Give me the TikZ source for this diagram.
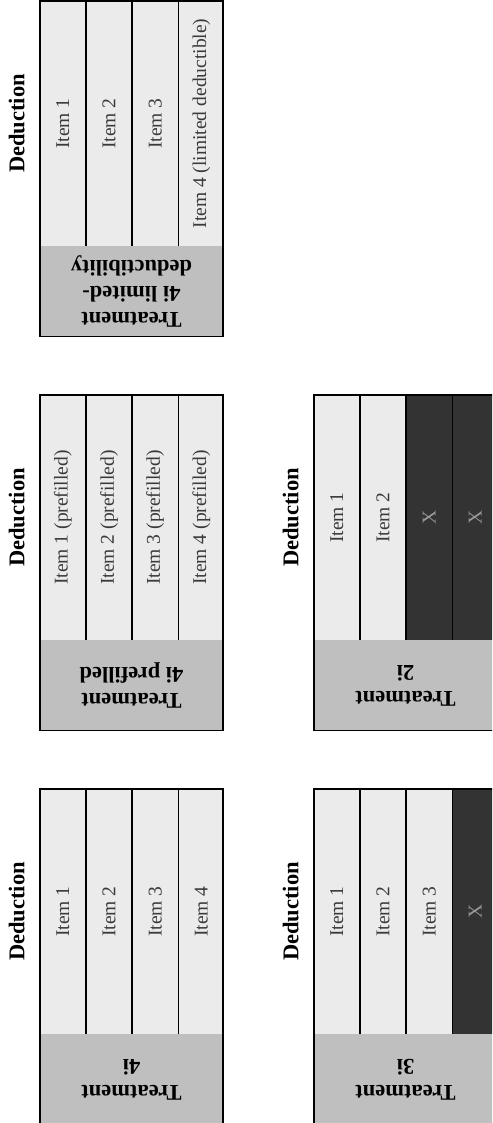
\documentclass[tikz,border=0pt]{standalone}
\usepackage{fontspec}
\setmainfont{Liberation Serif}
\usetikzlibrary{positioning}
\definecolor{cellgray}{HTML}{EBEBEB}
\definecolor{headgray}{HTML}{BFBFBF}
\definecolor{outgray}{HTML}{333333}
\definecolor{inkgray}{HTML}{3A3A3A}
\definecolor{xgray}{HTML}{9A9A9A}
\tikzset{
    item/.style =   {rectangle,
                    fill=cellgray,
                    text=inkgray,
                    inner sep=0pt,
                    minimum width=45.75pt,
                    minimum height=245pt,
                    font=\fontsize{19.5}{23}\selectfont},
    gone/.style =   {item,
                    fill=outgray,
                    text=xgray},
    head/.style =   {rectangle,
                    fill=headgray,
                    inner sep=0pt,
                    anchor=north west,
                    minimum width=183pt,
                    minimum height=90pt},
    headtext/.style = {rotate=180,
                    align=center,
                    text=black,
                    font=\fontsize{22.5}{26}\selectfont\bfseries},
    title/.style =  {rotate=90,
                    text=black,
                    font=\fontsize{22.5}{26}\selectfont\bfseries},
    frame/.style =  {draw=black,
                    line width=1.5pt},
    node distance=0pt}

\begin{document}
\begin{tikzpicture}[x=1pt,y=-1pt]
    \useasboundingbox (0,0) rectangle (492,1123);
    \clip (0,0) rectangle (492,1123);

    % treatment 4i limited-deductibility
    \node[item]  (A1) at (62.875,123.5)  {\rotatebox{90}{Item 1}};
    \node[item]  (A2) [right=of A1]       {\rotatebox{90}{Item 2}};
    \node[item]  (A3) [right=of A2]       {\rotatebox{90}{Item 3}};
    \node[item]  (A4) [right=of A3]       {\rotatebox{90}{Item 4 (limited deductible)}};
    \node[head]  (AH) at (A1.south west) {};
    \node[headtext] (AHt) at (AH) {Treatment\\4i limited-\\deductibility};
    \node[title] (AT) at ([xshift=-23pt]A1.west) {Deduction};
    \draw[frame] (A1.north west) rectangle (AH.south east);
    \draw[frame] (A1.north east) -- (A1.south east)
                 (A2.north east) -- (A2.south east)
                 (A3.north east) -- (A3.south east);

    % treatment 4i prefilled
    \node[item]  (B1) at (62.875,517.5)  {\rotatebox{90}{Item 1 (prefilled)}};
    \node[item]  (B2) [right=of B1]       {\rotatebox{90}{Item 2 (prefilled)}};
    \node[item]  (B3) [right=of B2]       {\rotatebox{90}{Item 3 (prefilled)}};
    \node[item]  (B4) [right=of B3]       {\rotatebox{90}{Item 4 (prefilled)}};
    \node[head]  (BH) at (B1.south west) {};
    \node[headtext] (BHt) at (BH) {Treatment\\4i prefilled};
    \node[title] (BT) at ([xshift=-23pt]B1.west) {Deduction};
    \draw[frame] (B1.north west) rectangle (BH.south east);
    \draw[frame] (B1.north east) -- (B1.south east)
                 (B2.north east) -- (B2.south east)
                 (B3.north east) -- (B3.south east);

    % treatment 2i
    \node[item]  (C1) at (336.875,517.5) {\rotatebox{90}{Item 1}};
    \node[item]  (C2) [right=of C1]       {\rotatebox{90}{Item 2}};
    \node[gone]  (C3) [right=of C2]       {\rotatebox{90}{X}};
    \node[gone]  (C4) [right=of C3]       {\rotatebox{90}{X}};
    \node[head]  (CH) at (C1.south west) {};
    \node[headtext] (CHt) at (CH) {Treatment\\2i};
    \node[title] (CT) at ([xshift=-23pt]C1.west) {Deduction};
    \draw[frame] (C1.north west) rectangle (CH.south east);
    \draw[frame] (C1.north east) -- (C1.south east)
                 (C2.north east) -- (C2.south east)
                 (C3.north east) -- (C3.south east);

    % treatment 4i
    \node[item]  (D1) at (62.875,911.5)  {\rotatebox{90}{Item 1}};
    \node[item]  (D2) [right=of D1]       {\rotatebox{90}{Item 2}};
    \node[item]  (D3) [right=of D2]       {\rotatebox{90}{Item 3}};
    \node[item]  (D4) [right=of D3]       {\rotatebox{90}{Item 4}};
    \node[head]  (DH) at (D1.south west) {};
    \node[headtext] (DHt) at (DH) {Treatment\\4i};
    \node[title] (DT) at ([xshift=-23pt]D1.west) {Deduction};
    \draw[frame] (D1.north west) rectangle (DH.south east);
    \draw[frame] (D1.north east) -- (D1.south east)
                 (D2.north east) -- (D2.south east)
                 (D3.north east) -- (D3.south east);

    % treatment 3i
    \node[item]  (E1) at (336.875,911.5) {\rotatebox{90}{Item 1}};
    \node[item]  (E2) [right=of E1]       {\rotatebox{90}{Item 2}};
    \node[item]  (E3) [right=of E2]       {\rotatebox{90}{Item 3}};
    \node[gone]  (E4) [right=of E3]       {\rotatebox{90}{X}};
    \node[head]  (EH) at (E1.south west) {};
    \node[headtext] (EHt) at (EH) {Treatment\\3i};
    \node[title] (ET) at ([xshift=-23pt]E1.west) {Deduction};
    \draw[frame] (E1.north west) rectangle (EH.south east);
    \draw[frame] (E1.north east) -- (E1.south east)
                 (E2.north east) -- (E2.south east)
                 (E3.north east) -- (E3.south east);
\end{tikzpicture}
\end{document}
